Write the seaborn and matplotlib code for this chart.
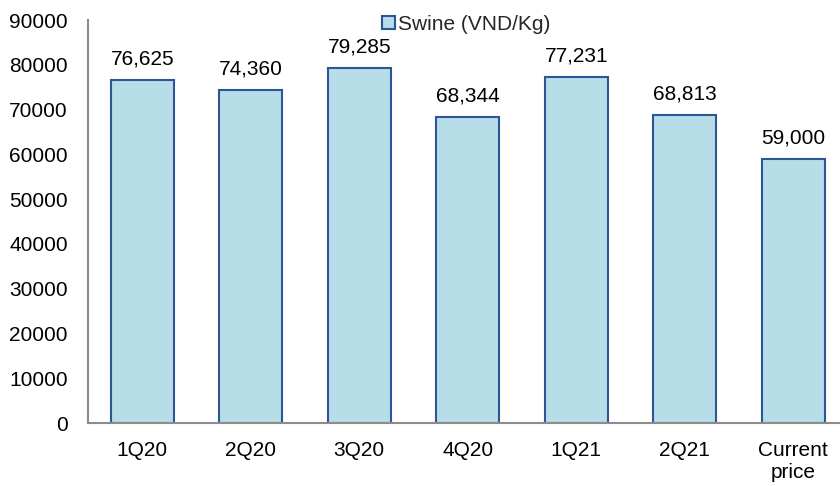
import matplotlib
matplotlib.use("Agg")
import matplotlib.pyplot as plt
import seaborn as sns
import pandas as pd

categories = ["1Q20", "2Q20", "3Q20", "4Q20", "1Q21", "2Q21", "Current\nprice"]
values = [76625, 74360, 79285, 68344, 77231, 68813, 59000]
series_name = "Swine (VND/Kg)"

sns.set_theme(style="white")
plt.rcParams['font.family'] = ['Liberation Sans', 'DejaVu Sans']

df = pd.DataFrame({"cat": categories, "val": values, "series": series_name})

fig = plt.figure(figsize=(8.4, 4.86), dpi=100)
ax = fig.add_axes([88/840, 1 - 423/486, (840-88)/840, (423-20)/486])

sns.barplot(data=df, x="cat", y="val", hue="series", ax=ax, width=0.58,
            palette=["#B7DDE8"], edgecolor="#2F5597", linewidth=1.5, saturation=1)

for i, v in enumerate(values):
    ax.text(i, v + 2500, f"{v:,}", ha="center", va="bottom", fontsize=15, color="black")

ax.set_ylim(0, 90000)
ax.set_xlim(-0.5, 6.43)
ax.set_yticks(range(0, 90001, 10000))
ax.tick_params(axis="both", labelsize=15, colors="black", length=0)
ax.tick_params(axis="y", pad=14.5)
ax.tick_params(axis="x", pad=13)
ax.set_xlabel("")
ax.set_ylabel("")
for s in ["top", "right"]:
    ax.spines[s].set_visible(False)
for s in ["left", "bottom"]:
    ax.spines[s].set_color("#8C8C8C")
    ax.spines[s].set_linewidth(1.5)

leg = ax.legend(loc="center", bbox_to_anchor=(0.503, 0.99), frameon=False,
                fontsize=15, handlelength=0.6, handleheight=0.6, handletextpad=0.15,
                borderpad=0)

fig.savefig("out.png", dpi=100)
